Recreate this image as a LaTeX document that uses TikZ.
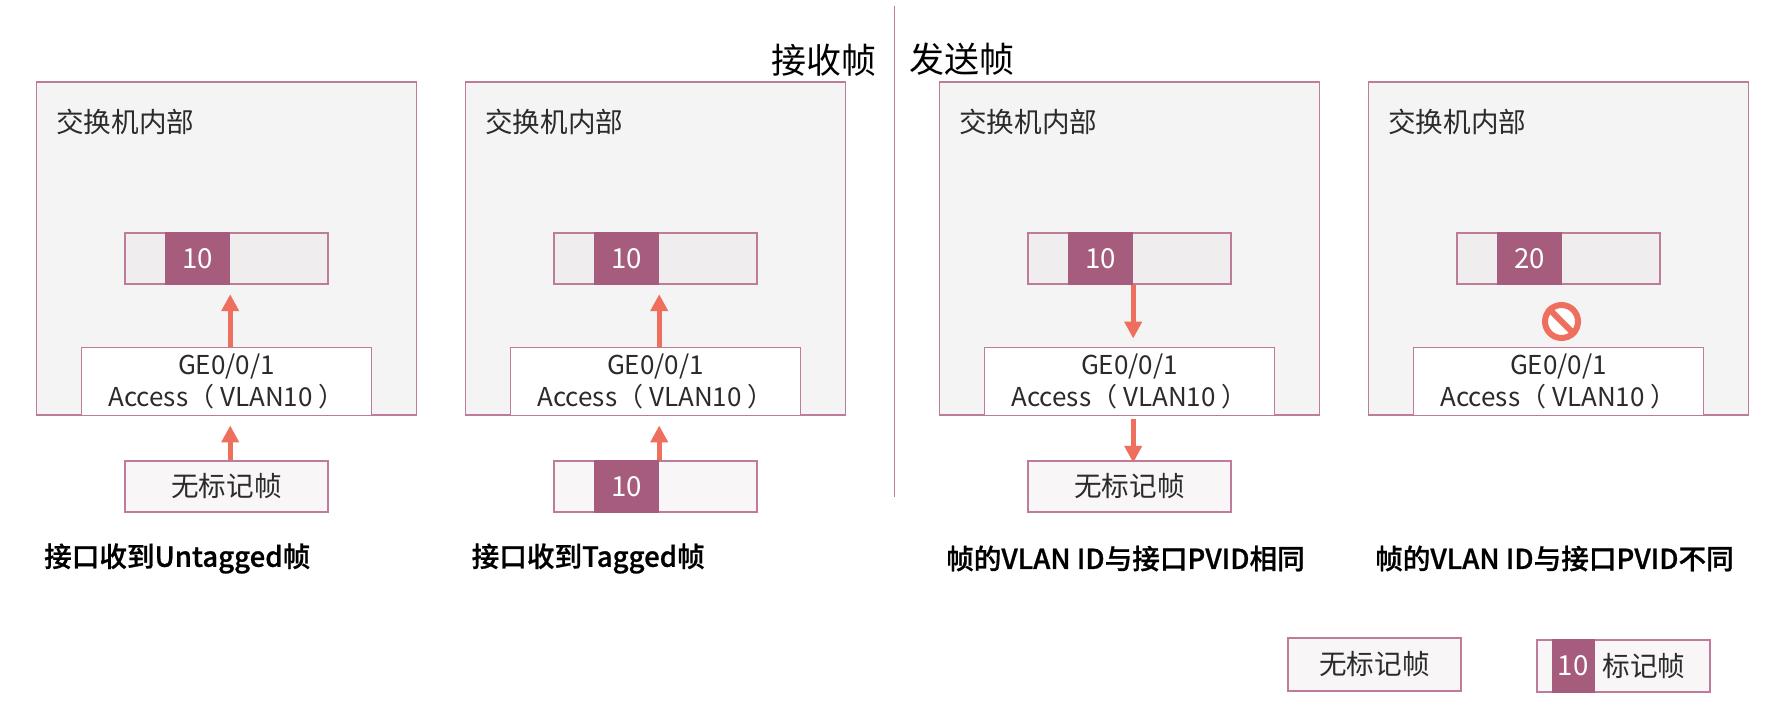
\documentclass[tikz,border=0pt]{standalone}
\usepackage{fontspec}
\setmainfont{Noto Sans CJK SC}
\newfontfamily\capfont[FakeBold=0.8]{Noto Sans CJK SC Medium}
\usetikzlibrary{arrows.meta}
\definecolor{edgepink}{HTML}{BE7C9A}
\definecolor{darkpink}{HTML}{A65C7C}
\definecolor{flowred}{HTML}{EE6F5E}
\definecolor{panelgray}{HTML}{F4F4F5}
\definecolor{bargray}{HTML}{EFEDEE}
\definecolor{framegray}{HTML}{F8F6F7}
\definecolor{inktext}{HTML}{2B2B2B}
\tikzset{
	every node/.style={font=\fontsize{27.6}{33}\selectfont,text=inktext,inner sep=0pt},
	panel/.style={draw=edgepink,line width=1.9pt,fill=panelgray,minimum width=380pt,minimum height=332.5pt},
	bar/.style={draw=edgepink,line width=1.9pt,fill=bargray,minimum width=202.5pt,minimum height=51.5pt},
	framebar/.style={bar,fill=framegray},
	vlan/.style={fill=darkpink,text=white,minimum width=65pt,minimum height=53pt},
	port/.style={draw=edgepink,line width=1.9pt,fill=white,minimum width=290pt,minimum height=68pt,align=center,font=\fontsize{26}{32}\selectfont},
	flow/.style={draw=flowred,line width=5pt,-{Triangle[length=17pt,width=17pt]}},
	caption/.style={anchor=west,font=\fontsize{27.6}{33}\capfont,text=black},
	side/.style={font=\fontsize{35}{40}\selectfont,text=black},
}
\begin{document}
\begin{tikzpicture}[x=1pt,y=-1pt]
	\useasboundingbox (0,0) rectangle (1769,706);
	% divider
	\coordinate (dtop) at (894.5,6);
	\coordinate (dbot) at (894.5,497);
	\draw[edgepink,line width=1.5pt] (dtop) -- (dbot);
	\node[side] (rx) at (824,60) {接收帧};
	\node[side] (tx) at (962,59) {发送帧};
	% the four switch panels
	\foreach \n/\cx/\vid in {1/226.5/10,2/655.5/10,3/1129.5/10,4/1558.5/20}{
		\node[panel] (box\n) at (\cx,248.5) {};
		\node[anchor=west] (in\n) at (\cx-170.5,122) {交换机内部};
		\node[bar] (bar\n) at (\cx,258.5) {};
		\node[vlan] (vlan\n) at (\cx-29,258.5) {\vid};
		\node[port] (port\n) at (\cx,381.5) {GE0/0/1\\Access（ VLAN10 ）};
	}
	% frames under the panels
	\node[framebar] (frame1) at (226.5,486.5) {无标记帧};
	\node[framebar] (frame2) at (655.5,486.5) {};
	\node[vlan] (fvlan2) at (626.5,486.5) {10};
	\node[framebar] (frame3) at (1129.5,486.5) {无标记帧};
	% flows
	\draw[flow,shorten >=9pt] (port1.north -| vlan1.east) -- (vlan1.south east);
	\draw[flow,shorten >=9pt] (frame1.north -| vlan1.east) -- (port1.south -| vlan1.east);
	\draw[flow,shorten >=9pt] (port2.north -| vlan2.east) -- (vlan2.south east);
	\draw[flow,shorten >=9pt] (frame2.north -| vlan2.east) -- (port2.south -| vlan2.east);
	\draw[flow,shorten >=8pt] (vlan3.south east) -- (port3.north -| vlan3.east);
	\draw[flow,shorten <=3pt,shorten >=-3pt] (port3.south -| vlan3.east) -- (frame3.north -| vlan3.east);
	% blocked
	\node[circle,draw=flowred,line width=6pt,fill=white,minimum size=33pt] (stop4) at (1561.5,321.5) {};
	\draw[flowred,line width=6pt] (stop4.135) -- (stop4.-45);
	% captions
	\node[caption] (cap1) at (44,558.5) {接口收到Untagged帧};
	\node[caption] (cap2) at (471.5,558.5) {接口收到Tagged帧};
	\node[caption] (cap3) at (946,558.5) {帧的VLAN ID与接口PVID相同};
	\node[caption] (cap4) at (1375,558.5) {帧的VLAN ID与接口PVID不同};
	% legend
	\node[framebar,minimum width=172.5pt,minimum height=52.5pt] (key1) at (1374.5,664.5) {无标记帧};
	\node[framebar,minimum width=172.5pt,minimum height=52.5pt] (key2) at (1623.5,666) {};
	\node[vlan,minimum width=43pt,minimum height=54pt] (keyvlan) at (1573,666) {10};
	\node[anchor=west] (keytext) at (1602.5,666) {标记帧};
\end{tikzpicture}
\end{document}
